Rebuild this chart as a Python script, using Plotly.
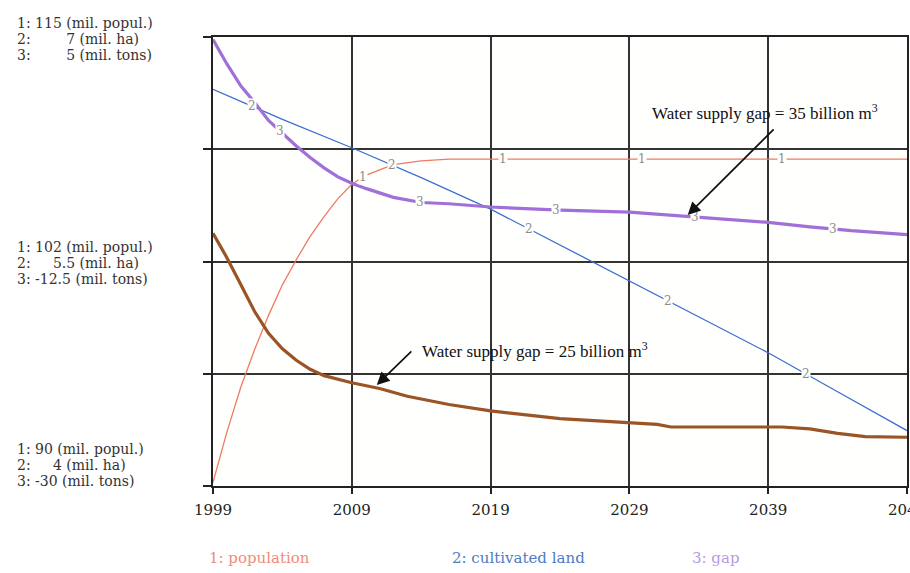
import numpy as np
import plotly.graph_objects as go

# ---------------- simulation output, 1999-2049 ----------------
# 1: population (million people)
pop_years = [1999, 2000, 2001, 2002, 2003, 2004, 2005, 2006, 2007, 2008, 2009,
             2010, 2011, 2012, 2014, 2016, 2020, 2030, 2040, 2049]
population = [90.2, 93.0, 95.5, 97.6, 99.5, 101.2, 102.6, 103.9, 105.0, 106.0, 106.8,
              107.3, 107.6, 107.9, 108.1, 108.2, 108.2, 108.2, 108.2, 108.2]

# 2: cultivated land (million ha)
land_years = [1999, 2004, 2009, 2014, 2019, 2024, 2029, 2034, 2039, 2044, 2049]
cultivated_land = [6.65, 6.45, 6.26, 6.06, 5.85, 5.61, 5.37, 5.13, 4.89, 4.63, 4.37]

# 3: food gap (million tons), water supply gap = 35 billion m3
gap_years = [1999, 2000, 2001, 2002, 2003, 2004, 2005, 2006, 2007, 2008, 2009,
             2010, 2011, 2012, 2014, 2016, 2019, 2024, 2029, 2032, 2035, 2039,
             2042, 2045, 2049]
food_gap = [4.8, 2.9, 1.2, -0.1, -1.5, -2.5, -3.5, -4.4, -5.2, -5.9, -6.4,
            -6.8, -7.15, -7.5, -7.9, -8.0, -8.25, -8.5, -8.65, -8.9, -9.15, -9.45,
            -9.8, -10.1, -10.4]

# food gap (million tons), water supply gap = 25 billion m3
gap25_years = [1999, 2000, 2001, 2002, 2003, 2004, 2005, 2006, 2007, 2008, 2009,
               2011, 2013, 2016, 2019, 2024, 2029, 2031, 2032, 2040, 2042, 2044,
               2046, 2049]
food_gap_25 = [-10.3, -12.2, -14.3, -16.4, -18.1, -19.3, -20.2, -20.9, -21.4, -21.7, -21.95,
               -22.4, -23.0, -23.65, -24.15, -24.75, -25.05, -25.2, -25.4, -25.4, -25.55, -25.9,
               -26.15, -26.2]

# axis scales
year_ticks = [1999, 2009, 2019, 2029, 2039, 2049]
pop_range = [90, 115]
land_range = [4, 7]
gap_range = [-30, 5]
pop_ticks = list(np.linspace(pop_range[0], pop_range[1], 5))

# scale captions on the left (top, middle, bottom)
scale_top = ["1: 115 (mil. popul.)",
             "2:\u00a0\u00a0\u00a0\u00a0\u00a0\u00a0\u00a0\u00a07 (mil. ha)",
             "3:\u00a0\u00a0\u00a0\u00a0\u00a0\u00a0\u00a0\u00a05 (mil. tons)"]
scale_mid = ["1: 102 (mil. popul.)",
             "2:\u00a0\u00a0\u00a0\u00a0\u00a05.5 (mil. ha)",
             "3: -12.5 (mil. tons)"]
scale_bot = ["1: 90 (mil. popul.)",
             "2:\u00a0\u00a0\u00a0\u00a0\u00a04 (mil. ha)",
             "3: -30 (mil. tons)"]

legend_labels = ["1: population", "2: cultivated land", "3: gap"]

# years where the series numbers are printed on the curves
pop_marks = [2009.8, 2019.9, 2029.9, 2040.0]
land_marks = [2001.8, 2011.9, 2021.8, 2031.8, 2041.7]
gap_marks = [2003.8, 2013.9, 2023.7, 2033.7, 2043.7]

# ---------------- styling ----------------
C_POP = "#f07a62"
C_LAND = "#3d6fd0"
C_GAP = "#a070d8"
C_GAP25 = "#9a5426"
GRID = "#333333"
PLOT_BG = "#fffffd"
SERIF = "DejaVu Serif"

fig = go.Figure()
fig.add_trace(go.Scatter(x=gap25_years, y=food_gap_25, mode="lines", yaxis="y3",
                         line=dict(color=C_GAP25, width=3.2), hoverinfo="skip"))
fig.add_trace(go.Scatter(x=pop_years, y=population, mode="lines", yaxis="y",
                         line=dict(color=C_POP, width=1.3), hoverinfo="skip"))
fig.add_trace(go.Scatter(x=land_years, y=cultivated_land, mode="lines", yaxis="y2",
                         line=dict(color=C_LAND, width=1.3), hoverinfo="skip"))
fig.add_trace(go.Scatter(x=gap_years, y=food_gap, mode="lines", yaxis="y3",
                         line=dict(color=C_GAP, width=3.2), hoverinfo="skip"))

annotations = []

# series numbers along the curves
mark_font = dict(family=SERIF, size=12, color="#8c8c8c")
for yr in pop_marks:
    annotations.append(dict(x=yr, y=float(np.interp(yr, pop_years, population)),
                            xref="x", yref="y", text="1", showarrow=False,
                            font=mark_font, bgcolor=PLOT_BG, borderpad=0))
for yr in land_marks:
    annotations.append(dict(x=yr, y=float(np.interp(yr, land_years, cultivated_land)),
                            xref="x", yref="y2", text="2", showarrow=False,
                            font=mark_font, bgcolor=PLOT_BG, borderpad=0))
for yr in gap_marks:
    annotations.append(dict(x=yr, y=float(np.interp(yr, gap_years, food_gap)),
                            xref="x", yref="y3", text="3", showarrow=False,
                            font=mark_font, bgcolor=PLOT_BG, borderpad=0))

# callouts
call_font = dict(family="Liberation Serif", size=17, color="#111111")
annotations += [
    dict(x=2038.8, y=-0.85, xref="x", yref="y3", showarrow=False,
         text="Water supply gap = 35 billion m<sup>3</sup>", font=call_font),
    dict(x=2033.2, y=-8.88, ax=2039.5, ay=-2.09, xref="x", yref="y3",
         axref="x", ayref="y3", text="", showarrow=True, arrowhead=2,
         arrowsize=1.5, arrowwidth=1.7, arrowcolor="#111111", standoff=0),
    dict(x=2022.2, y=-19.4, xref="x", yref="y3", showarrow=False,
         text="Water supply gap = 25 billion m<sup>3</sup>", font=call_font),
    dict(x=2010.8, y=-22.13, ax=2013.4, ay=-19.4, xref="x", yref="y3",
         axref="x", ayref="y3", text="", showarrow=True, arrowhead=2,
         arrowsize=1.5, arrowwidth=1.7, arrowcolor="#111111", standoff=0),
]

# left-hand scale captions
cap_font = dict(family=SERIF, size=14, color="#333333")
line_step = 16
for lines, tick_val, base_shift in [(scale_top, pop_ticks[4], 14),
                                    (scale_mid, pop_ticks[2], 15),
                                    (scale_bot, pop_ticks[0], 37)]:
    for i, txt in enumerate(lines):
        annotations.append(dict(x=-0.2853, y=tick_val, xref="paper", yref="y",
                                xanchor="left", yanchor="middle", text=txt,
                                showarrow=False, font=cap_font,
                                yshift=base_shift - i * line_step))

# legend row
for txt, col, xpos in zip(legend_labels, ["#f28c78", "#4c7cc4", "#b99be0"],
                          [-0.009, 0.3415, 0.687]):
    annotations.append(dict(x=xpos, y=-0.16, xref="paper", yref="paper",
                            xanchor="left", yanchor="middle", text=txt,
                            showarrow=False, font=dict(family=SERIF, size=15, color=col)))

fig.update_layout(
    width=910, height=573,
    margin=dict(l=213, r=3, t=37, b=87, autoexpand=False),
    paper_bgcolor="white",
    plot_bgcolor=PLOT_BG,
    showlegend=False,
    annotations=annotations,
    xaxis=dict(range=[year_ticks[0], year_ticks[-1]], tickvals=year_ticks,
               ticks="outside", ticklen=6, tickwidth=1.5, tickcolor="#222222",
               showgrid=True, gridcolor=GRID, gridwidth=1.8,
               showline=True, linecolor="#222222", linewidth=2, mirror=True,
               zeroline=False, ticklabelstandoff=3, ticklabeloverflow="allow",
               automargin=False,
               tickfont=dict(family=SERIF, size=15, color="#222222")),
    yaxis=dict(range=pop_range, tickvals=pop_ticks, showticklabels=False,
               ticks="outside", ticklen=8, tickwidth=1.5, tickcolor="#222222",
               showgrid=True, gridcolor=GRID, gridwidth=1.8,
               showline=True, linecolor="#222222", linewidth=2, mirror=True,
               zeroline=False, automargin=False),
    yaxis2=dict(range=land_range, overlaying="y", visible=False),
    yaxis3=dict(range=gap_range, overlaying="y", visible=False),
)

fig.write_html("out.html")
